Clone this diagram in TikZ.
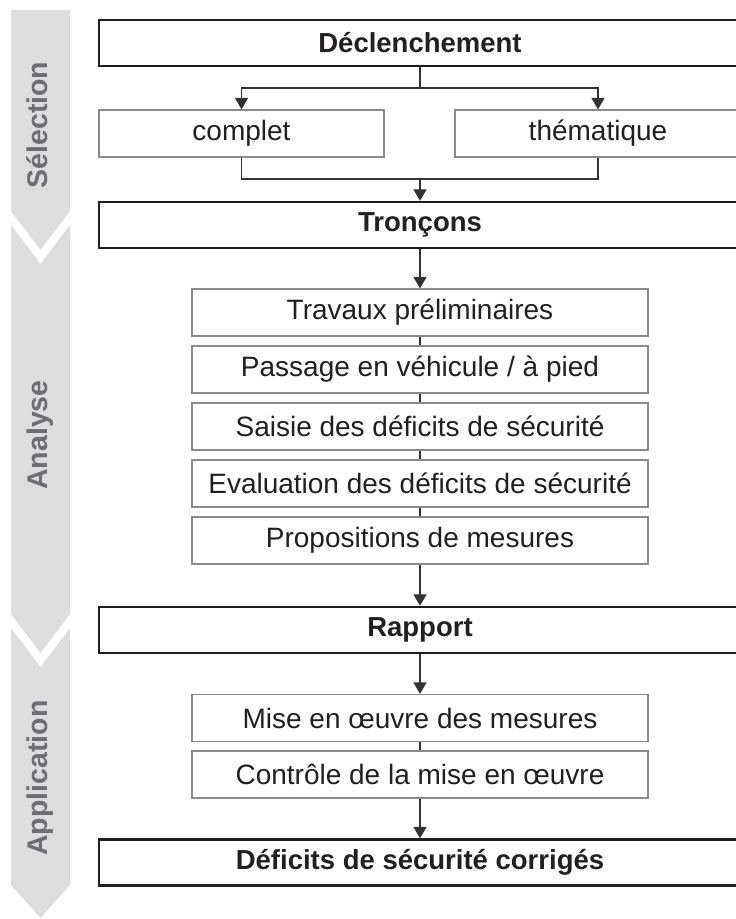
\documentclass[tikz,border=0pt]{standalone}
\usepackage{fontspec}
\setmainfont{Liberation Sans}
\usetikzlibrary{arrows.meta}
\definecolor{band}{HTML}{DCDDDF}
\definecolor{bandtext}{HTML}{6D6E71}
\definecolor{ink}{HTML}{231F20}
\definecolor{thinline}{HTML}{8A8A8A}
\definecolor{conn}{HTML}{333333}
\begin{document}
\begin{tikzpicture}[x=1pt,y=-1pt,
  mainbox/.style={draw=ink, line width=2.4pt, minimum width=642pt, minimum height=46pt, inner sep=0pt, text=ink, font=\fontsize{27.5}{31}\selectfont\bfseries},
  choicebox/.style={draw=thinline, line width=1.2pt, minimum height=47pt, inner sep=0pt, text=ink, font=\fontsize{28}{32}\selectfont},
  stepbox/.style={draw=thinline, line width=1.2pt, minimum width=456pt, minimum height=47pt, inner sep=0pt, text=ink, font=\fontsize{28}{32}\selectfont},
  bandlabel/.style={rotate=90, anchor=base, text=bandtext, font=\fontsize{28.5}{32}\selectfont\bfseries},
  conn/.style={draw=conn, line width=1.3pt},
  arr/.style={conn, -{Triangle[width=13pt,length=11.5pt]}}
]
\useasboundingbox (0,0) rectangle (736,919);
\clip (0,0) rectangle (736,919);
\fill[white] (0,0) rectangle (736,919);

% side band
\fill[band] (11,10) -- (70,10) -- (70,211) -- (40.5,250) -- (11,211) -- cycle;
\fill[band] (11,225) -- (40.5,264) -- (70,225) -- (70,614) -- (40.5,653) -- (11,614) -- cycle;
\fill[band] (11,628) -- (40.5,667) -- (70,628) -- (70,885) -- (40.5,918) -- (11,885) -- cycle;
\node[bandlabel] (lsel) at (47,125) {Sélection};
\node[bandlabel] (lana) at (47,435) {Analyse};
\node[bandlabel] (lapp) at (47,778) {Application};

% main boxes
\node[mainbox] (decl) at (420,43) {Déclenchement};
\node[choicebox, minimum width=285pt] (compl) at (241.5,133.5) {complet};
\node[choicebox, minimum width=286pt] (them) at (598,133.5) {thématique};
\node[mainbox] (tron) at (420,225) {Tronçons};
\node[stepbox] (trav) at (420,312.5) {Travaux préliminaires};
\node[stepbox] (pass) at (420,369.5) {Passage en véhicule / à pied};
\node[stepbox] (sais) at (420,426.5) {Saisie des déficits de sécurité};
\node[stepbox] (eval) at (420,483.5) {Evaluation des déficits de sécurité};
\node[stepbox] (prop) at (420,540.5) {Propositions de mesures};
\node[mainbox] (rapp) at (420,630) {Rapport};
\node[stepbox] (mise) at (420,718) {Mise en œuvre des mesures};
\node[stepbox] (ctrl) at (420,774.5) {Contrôle de la mise en œuvre};
\node[mainbox] (corr) at (420,862.5) {Déficits de sécurité corrigés};

% connectors
\coordinate (split) at (420,88);
\coordinate (join) at (420,179);
\draw[conn] (decl.south) -- (split);
\draw[arr] (split) -| (compl.north);
\draw[arr] (split) -| (them.north);
\draw[conn] (compl.south) |- (join);
\draw[conn] (them.south) |- (join);
\draw[arr] (join) -- (tron.north);
\draw[arr] (tron.south) -- (trav.north);
\draw[conn] (trav.south) -- (pass.north);
\draw[conn] (pass.south) -- (sais.north);
\draw[conn] (sais.south) -- (eval.north);
\draw[conn] (eval.south) -- (prop.north);
\draw[arr] (prop.south) -- (rapp.north);
\draw[arr] (rapp.south) -- (mise.north);
\draw[conn] (mise.south) -- (ctrl.north);
\draw[arr] (ctrl.south) -- (corr.north);
\end{tikzpicture}
\end{document}
